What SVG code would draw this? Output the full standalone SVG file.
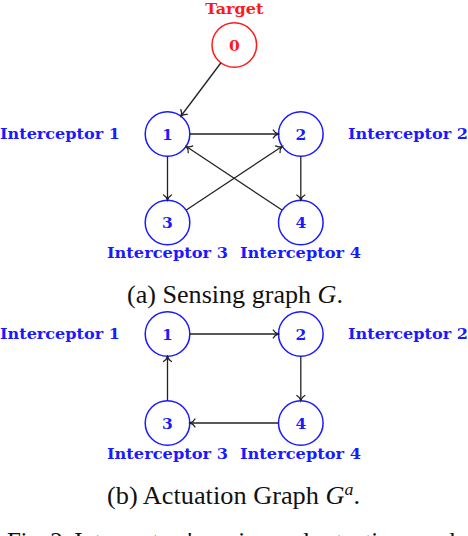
<svg xmlns="http://www.w3.org/2000/svg" width="468" height="536" viewBox="0 0 468 536">
  <style>
    .node circle { fill: #ffffff; stroke: #1a1aff; stroke-width: 1.5; }
    .node text.num { fill: #1a1aff; font-family: "DejaVu Serif", "Liberation Serif", serif; font-weight: bold; font-size: 15.5px; text-anchor: middle; }
    .lbl { fill: #1a1aff; font-family: "DejaVu Serif", "Liberation Serif", serif; font-weight: bold; font-size: 15.5px; }
    .target circle { stroke: #ff1a1a; }
    .target text.num, .target .lbl { fill: #ff1a1a; }
    .edge { stroke: #222222; stroke-width: 1.3; fill: none; marker-end: url(#arrow); }
    .cap { fill: #111111; font-family: "Liberation Serif", "Times New Roman", serif; font-size: 25px; }
  </style>
  <defs>
    <marker id="arrow" markerUnits="userSpaceOnUse" viewBox="-7 -6 9 12" refX="0" refY="0" markerWidth="9" markerHeight="12" orient="auto">
      <path d="M-5,-4 C-3.8,-1.8 -1.8,-0.5 0,0 C-1.8,0.5 -3.8,1.8 -5,4" fill="none" stroke="#222222" stroke-width="1.3" stroke-linecap="round"/>
    </marker>
  </defs>

  <!-- (a) Sensing graph -->
  <g id="a-node0" class="node target">
    <text class="lbl" x="234.3" y="14" text-anchor="middle" textLength="58" lengthAdjust="spacingAndGlyphs">Target</text>
    <circle cx="234.3" cy="45" r="22.3"/>
    <text class="num" x="234.3" y="50.5">0</text>
  </g>
  <g id="a-node1" class="node">
    <circle cx="167.5" cy="134" r="22.3"/>
    <text class="num" x="167.5" y="139.5">1</text>
    <text class="lbl" x="0" y="138.5" textLength="120" lengthAdjust="spacingAndGlyphs">Interceptor 1</text>
  </g>
  <g id="a-node2" class="node">
    <circle cx="300.8" cy="134" r="22.3"/>
    <text class="num" x="300.8" y="139.5">2</text>
    <text class="lbl" x="348" y="138.5" textLength="120" lengthAdjust="spacingAndGlyphs">Interceptor 2</text>
  </g>
  <g id="a-node3" class="node">
    <circle cx="167.5" cy="222.5" r="22.3"/>
    <text class="num" x="167.5" y="228">3</text>
    <text class="lbl" x="107" y="258" textLength="121" lengthAdjust="spacingAndGlyphs">Interceptor 3</text>
  </g>
  <g id="a-node4" class="node">
    <circle cx="300.8" cy="222.5" r="22.3"/>
    <text class="num" x="300.8" y="228">4</text>
    <text class="lbl" x="240" y="258" textLength="121" lengthAdjust="spacingAndGlyphs">Interceptor 4</text>
  </g>
  <g id="a-edges">
    <line class="edge" x1="220.8" y1="63" x2="181" y2="116"/>
    <line class="edge" x1="190" y1="134" x2="278.3" y2="134"/>
    <line class="edge" x1="167.5" y1="156.5" x2="167.5" y2="200"/>
    <line class="edge" x1="300.8" y1="156.5" x2="300.8" y2="200"/>
    <line class="edge" x1="186.3" y1="210" x2="282" y2="146.5"/>
    <line class="edge" x1="282" y1="210" x2="186.3" y2="146.5"/>
  </g>
  <text class="cap" x="127" y="303" textLength="216" lengthAdjust="spacingAndGlyphs">(a) Sensing graph <tspan font-style="italic">G</tspan>.</text>

  <!-- (b) Actuation graph -->
  <g id="b-node1" class="node">
    <circle cx="167.5" cy="334" r="22.3"/>
    <text class="num" x="167.5" y="339.5">1</text>
    <text class="lbl" x="0" y="338.5" textLength="120" lengthAdjust="spacingAndGlyphs">Interceptor 1</text>
  </g>
  <g id="b-node2" class="node">
    <circle cx="300.8" cy="334" r="22.3"/>
    <text class="num" x="300.8" y="339.5">2</text>
    <text class="lbl" x="348" y="338.5" textLength="120" lengthAdjust="spacingAndGlyphs">Interceptor 2</text>
  </g>
  <g id="b-node3" class="node">
    <circle cx="167.5" cy="423" r="22.3"/>
    <text class="num" x="167.5" y="428.5">3</text>
    <text class="lbl" x="107" y="458.5" textLength="121" lengthAdjust="spacingAndGlyphs">Interceptor 3</text>
  </g>
  <g id="b-node4" class="node">
    <circle cx="300.8" cy="423" r="22.3"/>
    <text class="num" x="300.8" y="428.5">4</text>
    <text class="lbl" x="240" y="458.5" textLength="121" lengthAdjust="spacingAndGlyphs">Interceptor 4</text>
  </g>
  <g id="b-edges">
    <line class="edge" x1="190" y1="334" x2="278.3" y2="334"/>
    <line class="edge" x1="300.8" y1="356.5" x2="300.8" y2="400.5"/>
    <line class="edge" x1="278.3" y1="423" x2="190" y2="423"/>
    <line class="edge" x1="167.5" y1="400.5" x2="167.5" y2="356.5"/>
  </g>
  <text class="cap" x="107" y="503.5" textLength="253" lengthAdjust="spacingAndGlyphs">(b) Actuation Graph <tspan font-style="italic">G</tspan><tspan font-style="italic" font-size="17" dy="-9">a</tspan><tspan dy="9">.</tspan></text>

  <text class="cap" x="7" y="549.5" textLength="470" lengthAdjust="spacing">Fig. 2: Interceptors' sensing and actuation graphs.</text>
</svg>
